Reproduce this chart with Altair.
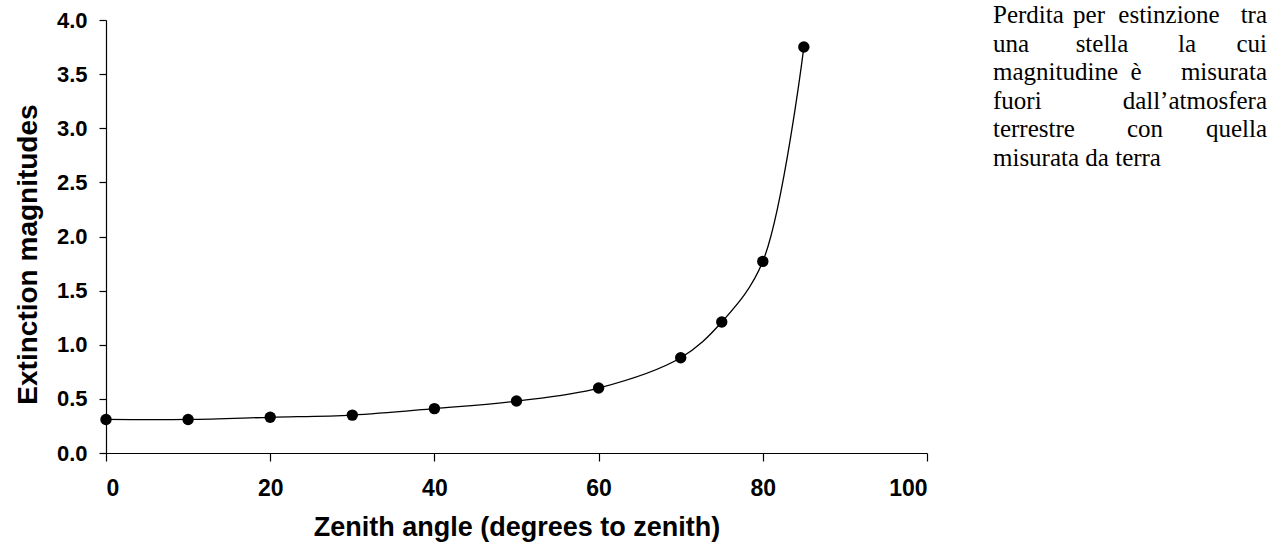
import altair as alt
import pandas as pd

# Data
zenith_deg = [0, 10, 20, 30, 40, 50, 60, 70, 75, 80, 85]
extinction_mag = [0.31, 0.31, 0.33, 0.35, 0.41, 0.48, 0.60, 0.88, 1.21, 1.77, 3.75]

x_ticks = [0, 20, 40, 60, 80, 100]
y_ticks = [0.0, 0.5, 1.0, 1.5, 2.0, 2.5, 3.0, 3.5, 4.0]

# Side note (justified paragraph, placed word by word)
note_words = ["Perdita", "per", "estinzione", "tra",
              "una", "stella", "la", "cui",
              "magnitudine", "è", "misurata",
              "fuori", "dall\u2019atmosfera",
              "terrestre", "con", "quella",
              "misurata da terra"]
note_line = [0, 0, 0, 0, 1, 1, 1, 1, 2, 2, 2, 3, 3, 4, 4, 4, 5]
note_xpos = [887, 983, 1063, 1161,
             887, 996, 1081, 1161,
             887, 1030, 1161,
             887, 1161,
             887, 1039, 1161,
             887]
note_align = ["left", "center", "center", "right",
              "left", "center", "center", "right",
              "left", "center", "right",
              "left", "right",
              "left", "center", "right",
              "left"]

df = pd.DataFrame({"zenith": zenith_deg, "ext": extinction_mag})
notes = pd.DataFrame({"word": note_words, "line": note_line,
                      "px": note_xpos, "align": note_align})
notes["py"] = 3 + notes["line"] * 28.5

xscale = alt.Scale(domain=[0, 100], nice=False)
yscale = alt.Scale(domain=[0, 4], nice=False)

base = alt.Chart(df).encode(
    x=alt.X("zenith:Q", scale=xscale,
            axis=alt.Axis(title="Zenith angle (degrees to zenith)", values=x_ticks,
                          tickSize=8, labelPadding=16, titlePadding=14,
                          labelFontSize=23, titleFontSize=27)),
    y=alt.Y("ext:Q", scale=yscale,
            axis=alt.Axis(title="Extinction magnitudes", values=y_ticks, format=".1f",
                          tickSize=7, labelPadding=12, titlePadding=14,
                          labelFontSize=22, titleFontSize=28, titleY=234)),
)

line = base.mark_line(color="black", strokeWidth=1.3, interpolate="catmull-rom")
pts = base.mark_point(filled=True, color="black", size=130, opacity=1)

def note_layer(al):
    return alt.Chart(notes).transform_filter(
        alt.datum.align == al
    ).mark_text(align=al, baseline="alphabetic", font="Liberation Serif",
                fontSize=25, color="black").encode(
        x=alt.X("px:Q", scale=None),
        y=alt.Y("py:Q", scale=None),
        text="word:N",
    )

chart = alt.layer(line, pts, note_layer("left"), note_layer("center"), note_layer("right")).properties(
    width=821, height=433,
    autosize=alt.AutoSizeParams(type="none"),
    padding={"left": 106, "top": 20, "right": 356, "bottom": 98},
    background="white",
).configure_view(stroke=None).configure_axis(
    grid=False,
    domainColor="black", domainWidth=1.2,
    tickColor="black", tickWidth=1.2,
    labelColor="black", titleColor="black",
    labelFont="Liberation Sans", titleFont="Liberation Sans",
    labelFontWeight="bold", titleFontWeight="bold",
)

chart.save("out.html", embed_options={"renderer": "svg", "actions": False})
